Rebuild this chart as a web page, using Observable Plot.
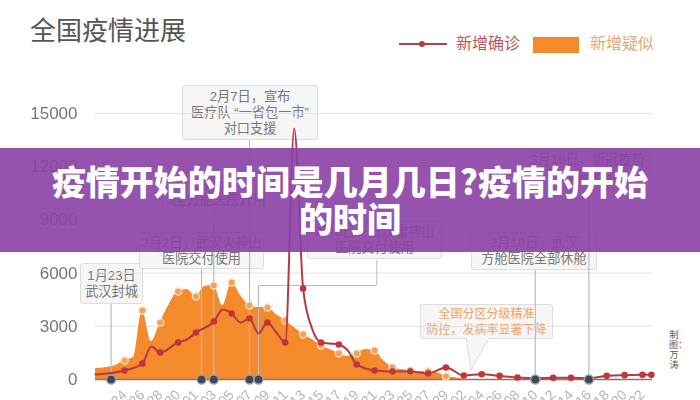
<!DOCTYPE html>
<html lang="zh">
<head>
<meta charset="utf-8">
<script src="https://cdn.jsdelivr.net/npm/d3@7"></script>
<script src="https://cdn.jsdelivr.net/npm/@observablehq/plot@0.6"></script>
<style>
  html, body { margin: 0; padding: 0; background: #fff; }
  #stage { position: relative; width: 700px; height: 400px; overflow: hidden; background: #fff;
           font-family: "Liberation Sans", "Noto Sans CJK SC", sans-serif; }
  #chart { position: absolute; inset: 0; filter: blur(0.45px); }
  #chart svg { position: absolute; left: 0; top: 0; background: transparent; }
  .note { position: absolute; box-sizing: border-box; background: #f6f6f6; border: 1px solid #ddd; border-radius: 3px;
          color: #777; font-size: 13.2px; line-height: 16px; text-align: center; display: flex;
          flex-direction: column; justify-content: center; white-space: nowrap; }
  .note.orange { color: #eba46c; font-size: 12px; line-height: 16px; }
  #title { position: absolute; left: 30px; top: 13px; font-size: 26px; line-height: 36px; color: #555; }
  .legend { position: absolute; top: 34px; font-size: 16px; line-height: 20px; }
  #swatch { position: absolute; left: 533px; top: 37px; width: 46px; height: 16px; background: #f58a2c; }
  #legendLine { position: absolute; left: 399px; top: 43px; width: 48px; height: 2px; background: #a8434a; }
  #legendDot { position: absolute; left: 419px; top: 41px; width: 6px; height: 6px; border-radius: 50%; background: #b83a3f; }
  #credit { position: absolute; left: 669px; top: 330px; width: 10px; font-size: 9px; line-height: 10px; color: #555; text-align: center; }
  #pointer { position: absolute; left: 465px; top: 338px; }
  #banner { position: absolute; left: 0; top: 148px; width: 700px; height: 104px; background: rgba(138,66,165,.91);
            color: #fff; font: 900 34px/37px "Noto Sans CJK SC", sans-serif; text-align: center; padding-top: 14px; box-sizing: border-box; }
  #banner div { width: 620px; margin: 0 auto; }
</style>
</head>
<body>
<div id="stage">
  <div id="title">全国疫情进展</div>
  <div id="legendLine"></div><div id="legendDot"></div>
  <div class="legend" style="left:456px;color:#b5595a">新增确诊</div>
  <div id="swatch"></div>
  <div class="legend" style="left:590px;color:#e0a878">新增疑似</div>
  <div id="notes"></div>
  <svg id="pointer" width="40" height="34"><path d="M1 0 L6 32 L24 0" fill="#f6f6f6" stroke="#ddd"/></svg>
  <div id="chart"></div>
  <div id="credit">制图：万涛</div>
  <div id="banner"><div>疫情开始的时间是几月几日?疫情的开始的时间</div></div>
</div>
<script>
const confirmedDates = ["2020-01-20T18","2020-01-24","2020-01-26","2020-01-27","2020-01-28","2020-01-30","2020-01-31","2020-02-01","2020-02-03","2020-02-04","2020-02-05","2020-02-06","2020-02-07","2020-02-08","2020-02-09","2020-02-10","2020-02-11","2020-02-12","2020-02-13","2020-02-14","2020-02-15","2020-02-16","2020-02-17","2020-02-18","2020-02-19","2020-02-21","2020-02-23","2020-02-25","2020-02-27","2020-02-29","2020-03-02","2020-03-04","2020-03-06","2020-03-08","2020-03-10","2020-03-12","2020-03-14","2020-03-16","2020-03-18","2020-03-20","2020-03-22","2020-03-23"];
const confirmedValues = [280,510,900,1860,1520,2090,2260,2650,3270,3950,3720,3210,3440,2600,3210,2650,2090,14160,5130,2880,2090,2030,1970,1640,850,510,450,450,340,680,225,300,205,113,70,94,94,70,207,244,263,263];

const suspectedDates = ["2020-01-20T18","2020-01-22","2020-01-23","2020-01-24","2020-01-25","2020-01-26","2020-01-27","2020-01-28","2020-01-29","2020-01-30","2020-01-31","2020-02-01","2020-02-02","2020-02-03","2020-02-04","2020-02-05","2020-02-06","2020-02-07","2020-02-08","2020-02-09","2020-02-10","2020-02-11","2020-02-12","2020-02-13","2020-02-14","2020-02-15","2020-02-16","2020-02-17","2020-02-18","2020-02-19","2020-02-20","2020-02-21","2020-02-22","2020-02-23","2020-02-24","2020-02-25","2020-02-26","2020-02-27","2020-02-28","2020-02-29","2020-03-01","2020-03-02"];
const suspectedValues = [620,680,790,1070,1240,3890,2140,3210,4230,4960,5080,4680,5250,5300,4170,5470,4740,4170,4060,4060,3670,3330,2930,2540,2260,1920,1690,1470,1300,1470,1690,1640,1070,680,560,510,450,450,400,170,100,0];

const eventDates = ["2020-01-22T12","2020-02-01T15","2020-02-03","2020-02-07","2020-02-08","2020-03-10","2020-03-16"];
const eventTops = [4230,6200,9420,13480,5300,6150,10770];
const yTicks = [0,3000,6000,9000,12000,15000];

const noteTexts = [
  ["2月7日，宣布","医疗队 “一省包一市”","对口支援"],
  ["1月23日","武汉封城"],
  ["2月2日，武汉火神山","医院交付使用"],
  ["2月5日，","3座方舱医院开用"],
  ["2月8日，武汉雷神山","医院交付使用"],
  ["3月10日，武汉","方舱医院全部休舱"],
  ["3月16日，新冠疫苗","进入临床试验"],
  ["全国分区分级精准","防控，发病率显著下降"]
];
const noteBoxes = [[182,85,136,55],[80,263,63,41],[139,232,125,37],[162,172,108,40],[307,221,135,38],[471,232,126,38],[525,148,125,40],[420,304,133,35]];

const t = s => new Date(s.length > 10 ? s + ":00:00Z" : s + "T00:00:00Z");
const confirmed = confirmedDates.map((d,i) => ({date:t(d), value:confirmedValues[i]}));
const suspected = suspectedDates.map((d,i) => ({date:t(d), value:suspectedValues[i]}));
const events = eventDates.map((d,i) => ({date:t(d), top:eventTops[i]}));
const first = t("2020-01-24");
const onCadence = d => d.date >= first && Math.round((d.date - first)/864e5) % 2 === 0;

const notes = document.getElementById("notes");
noteTexts.forEach((lines,i) => {
  const el = document.createElement("div");
  el.className = "note" + (i === 7 ? " orange" : "");
  const [l,tp,w,h] = noteBoxes[i];
  el.style.cssText = `left:${l}px;top:${tp}px;width:${w}px;height:${h}px`;
  lines.forEach(s => { const r = document.createElement("div"); r.textContent = s; el.appendChild(r); });
  notes.appendChild(el);
});

const lineColor = "#b23a45", gridColor = "#e2e2e2", ruleColor = "#bcbcbc";
const plot = Plot.plot({
  width: 700, height: 400,
  marginLeft: 95, marginRight: 48, marginTop: 113, marginBottom: 21,
  style: {background: "transparent", fontFamily: "'Liberation Sans','Noto Sans CJK SC',sans-serif"},
  x: {type: "utc", domain: [t("2020-01-20T18"), t("2020-03-23T03")]},
  y: {domain: [0,15000]},
  marks: [
    Plot.ruleY(yTicks.filter(v => v > 0), {stroke: gridColor, strokeWidth: 1}),
    Plot.areaY(suspected, {x:"date", y:"value", fill:"#f58a2c", curve:"monotone-x"}),
    Plot.ruleX(events, {x:"date", y1:0, y2:"top", stroke:ruleColor, strokeWidth:1.2}),
    Plot.ruleY([5300], {x1:t("2020-02-08"), x2:t("2020-02-21T06"), stroke:ruleColor}),
    Plot.ruleX([t("2020-02-21T06")], {y1:5300, y2:6700, stroke:ruleColor}),
    Plot.ruleY([0], {stroke:"#8a7468", strokeWidth:1.6}),
    Plot.dot(suspected.filter(onCadence).filter(d => d.value > 150), {x:"date", y:"value", r:3.6, fill:"#f2a259", stroke:"#fbe3cb", strokeWidth:1.3}),
    Plot.line(confirmed, {x:"date", y:"value", stroke:lineColor, strokeWidth:2, curve:"monotone-x"}),
    Plot.dot(confirmed.filter((d,i) => onCadence(d) || i === confirmed.length-1), {x:"date", y:"value", r:3.3, fill:"#c2343a"}),
    Plot.dot(events, {x:"date", y:()=>0, r:4.5, fill:"#3e4657", stroke:"#9aa0a8", strokeWidth:1.4}),
    Plot.axisY({ticks:yTicks, tickSize:0, tickPadding:18, fontSize:17, color:"#777", label:null, tickFormat:d=>String(d)}),
    Plot.axisX({ticks:d3.utcDay.range(first, t("2020-03-24"), 2), tickSize:0, tickPadding:13, tickRotate:-45, fontSize:14, color:"#b5b5b5", label:null, tickFormat:d3.utcFormat("%m-%d")})
  ]
});
document.getElementById("chart").appendChild(plot);
</script>
</body>
</html>
